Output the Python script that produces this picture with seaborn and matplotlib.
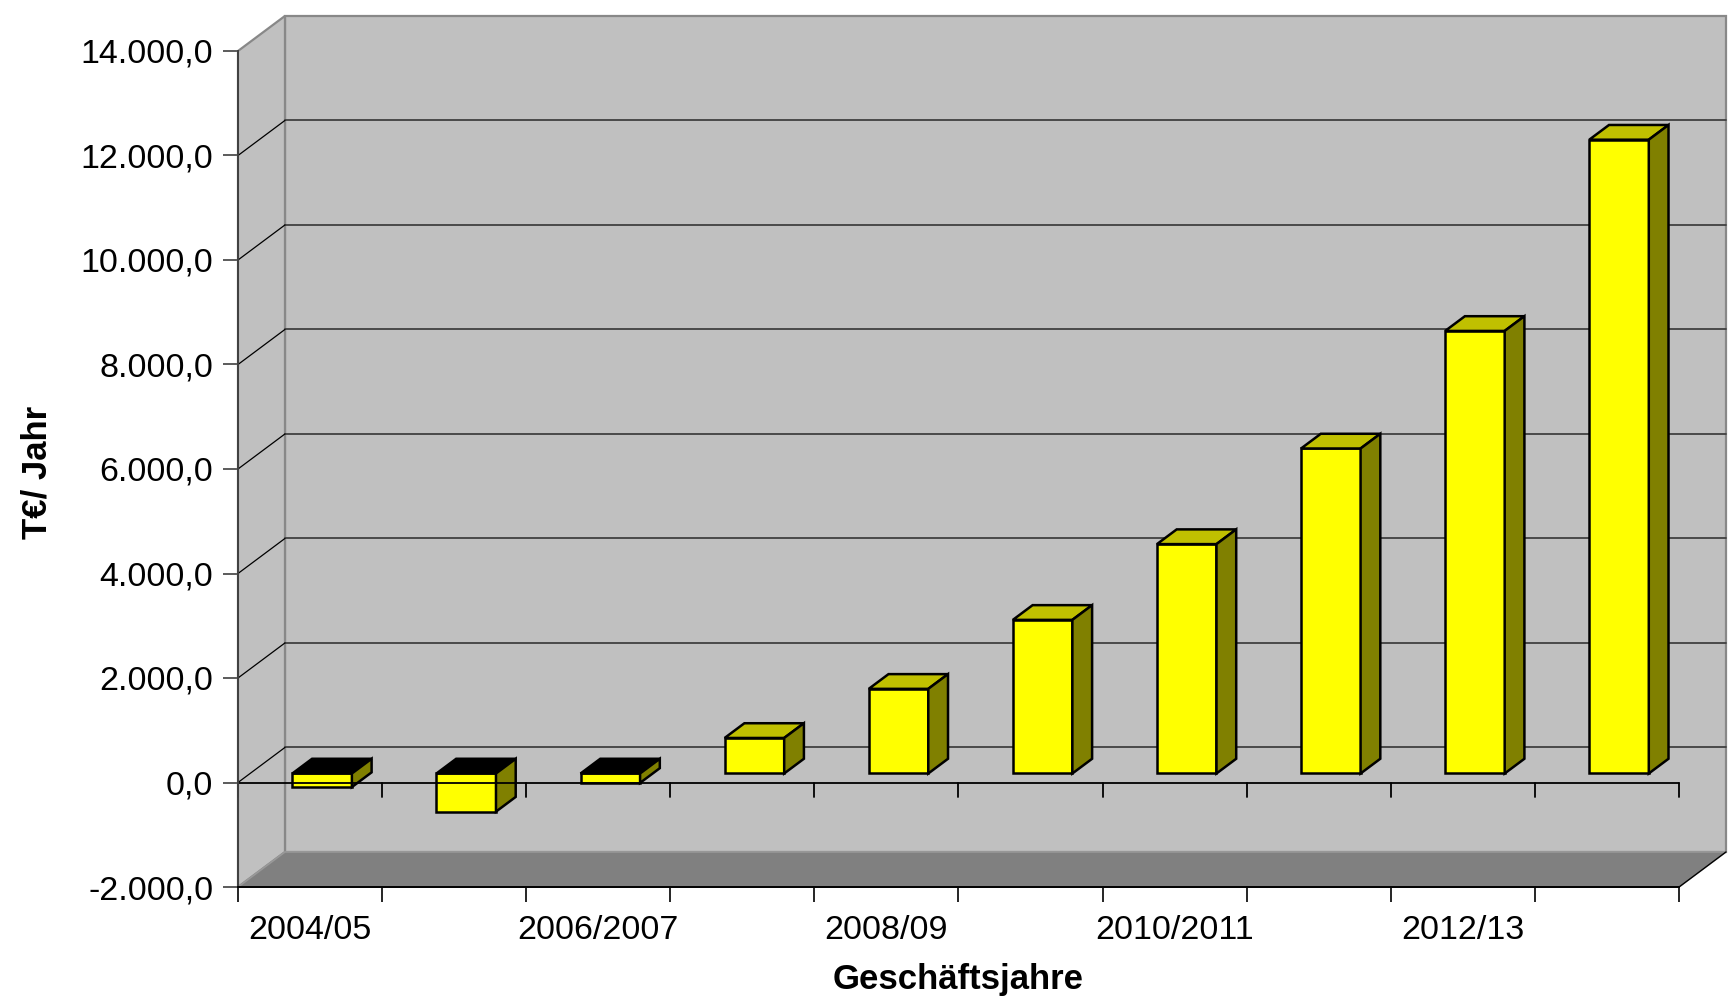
import numpy as np
import pandas as pd
import matplotlib
matplotlib.use("Agg")
import matplotlib.pyplot as plt
from matplotlib.patches import Polygon
from matplotlib.transforms import Affine2D
import seaborn as sns

# ---- data ---------------------------------------------------------------
years = ["2004/05", "2005/06", "2006/2007", "2007/08", "2008/09",
         "2009/10", "2010/2011", "2011/12", "2012/13", "2013/14"]
values = [-260, -730, -180, 680, 1620, 2940, 4390, 6220, 8470, 12130]
shown_labels = ["2004/05", "2006/2007", "2008/09", "2010/2011", "2012/13"]
y_ticks = list(range(-2000, 14001, 2000))

# ---- styling ------------------------------------------------------------
sns.set_style("white")
plt.rcParams["font.family"] = ["Liberation Sans", "DejaVu Sans"]
plt.rcParams["text.color"] = "black"
plt.rcParams["xtick.color"] = "black"
plt.rcParams["ytick.color"] = "black"

FRONT = "#FFFF00"
TOP = "#C0C000"
SIDE = "#808000"
WALL = "#C0C0C0"
FLOOR = "#808080"

W, H = 1731, 1002
fig = plt.figure(figsize=(W / 100, H / 100), dpi=100)
fig.patch.set_facecolor("white")
ax = fig.add_axes([238 / W, 1 - 887 / H, (1729 - 238) / W, (887 - 10) / H])
ax.patch.set_visible(False)

# oblique depth vector of the 3-D box (data units: categories, value)
DX, DY = 0.326, 671.0
D_FRONT, D_BAR = 0.257, 0.42          # bar placement inside the depth
YMIN, YMAX = -2000, 14000
XMIN, XMAX = -0.5, len(years) - 0.5
EDGE_LW = 1.8

df = pd.DataFrame({"jahr": years, "wert": values})

# ---- walls and floor ----------------------------------------------------
back = Polygon([(XMIN + DX, YMIN + DY), (XMAX + DX, YMIN + DY),
                (XMAX + DX, YMAX + DY), (XMIN + DX, YMAX + DY)],
               closed=True, facecolor=WALL, edgecolor="#888888", lw=1.6,
               zorder=0.5, clip_on=False)
side = Polygon([(XMIN, YMIN), (XMIN + DX, YMIN + DY),
                (XMIN + DX, YMAX + DY), (XMIN, YMAX)],
               closed=True, facecolor=WALL, edgecolor="#888888", lw=1.6,
               zorder=0.6, clip_on=False)
floor = Polygon([(XMIN, YMIN), (XMAX, YMIN),
                 (XMAX + DX, YMIN + DY), (XMIN + DX, YMIN + DY)],
                closed=True, facecolor=FLOOR, edgecolor="#999999", lw=1.2,
                zorder=0.7, clip_on=False)
for p in (back, side, floor):
    ax.add_patch(p)
ax.plot([XMAX, XMAX + DX], [YMIN, YMIN + DY], color="black", lw=1.0,
        zorder=0.8, clip_on=False)

# gridlines on the back wall and on the side wall
for v in y_ticks[1:-1]:
    ax.plot([XMIN + DX, XMAX + DX], [v + DY, v + DY], color="#404040",
            lw=1.3, zorder=0.9, clip_on=False)
    ax.plot([XMIN, XMIN + DX], [v, v + DY], color="black", lw=0.9,
            zorder=0.9, clip_on=False)

# ---- bars ---------------------------------------------------------------
sns.barplot(data=df, x="jahr", y="wert", order=years, color=FRONT,
            saturation=1, width=0.413, edgecolor="black", linewidth=EDGE_LW,
            ax=ax, zorder=3)

shift = Affine2D().translate(D_FRONT * DX, D_FRONT * DY) + ax.transData
bdx, bdy = D_BAR * DX, D_BAR * DY
for patch in list(ax.patches):
    if patch in (back, side, floor):
        continue
    patch.set_transform(shift)
    patch.set_clip_on(False)
    patch.set_joinstyle("miter")
    x0, w = patch.get_x(), patch.get_width()
    y0, h = patch.get_y(), patch.get_height()
    top, bottom = max(y0, y0 + h), min(y0, y0 + h)
    x1 = x0 + w
    top_face = Polygon([(x0, top), (x1, top), (x1 + bdx, top + bdy),
                        (x0 + bdx, top + bdy)], closed=True,
                       facecolor=TOP if h >= 0 else "black",
                       edgecolor="black", lw=EDGE_LW, joinstyle="miter",
                       transform=shift, zorder=3.1, clip_on=False)
    side_face = Polygon([(x1, bottom), (x1, top), (x1 + bdx, top + bdy),
                         (x1 + bdx, bottom + bdy)], closed=True,
                        facecolor=SIDE, edgecolor="black", lw=EDGE_LW,
                        joinstyle="miter", transform=shift, zorder=3.1,
                        clip_on=False)
    ax.add_patch(top_face)
    ax.add_patch(side_face)

# front category line at zero with its ticks
tick_len = 287
ax.plot([XMIN, XMAX], [0, 0], color="black", lw=1.3, zorder=3.5,
        clip_on=False)
for b in np.arange(XMIN, XMAX + 0.01, 1.0):
    ax.plot([b, b], [0, -tick_len], color="black", lw=1.3, zorder=3.5,
            clip_on=False)

# ---- axes ---------------------------------------------------------------
ax.set_xlim(XMIN, XMIN + (1729 - 238) / 144.1)
ax.set_ylim(YMIN, YMIN + (887 - 10) / (104.5 / 2000))

for s in ("top", "right"):
    ax.spines[s].set_visible(False)
ax.spines["left"].set_bounds(YMIN, YMAX)
ax.spines["left"].set_color("#404040")
ax.spines["left"].set_linewidth(1.4)
ax.spines["bottom"].set_bounds(XMIN, XMAX)
ax.spines["bottom"].set_color("black")
ax.spines["bottom"].set_linewidth(1.4)
ax.spines["left"].set_zorder(4)
ax.spines["bottom"].set_zorder(4)


def de_fmt(v):
    s = f"{v:,.1f}"
    return s.replace(",", "X").replace(".", ",").replace("X", ".")


ax.set_yticks(y_ticks, labels=[de_fmt(v) for v in y_ticks])
ax.tick_params(axis="y", which="major", direction="out", length=10.8,
               width=1.2, color="#404040", pad=7, labelsize=24.5,
               labelcolor="black", left=True)

ax.set_xticks(np.arange(XMIN, XMAX + 0.01, 1.0), labels=[""] * 11)
ax.set_xticks([years.index(l) for l in shown_labels], labels=shown_labels,
              minor=True)
ax.tick_params(axis="x", which="major", direction="out", length=10.8,
               width=1.2, color="black", bottom=True)
ax.tick_params(axis="x", which="minor", length=0, pad=20, labelsize=24.5,
               labelcolor="black", bottom=True)
ax.set_xlabel("")
ax.set_ylabel("")
ax.grid(False)

fig.text(37 / W, 1 - 472 / H, "T€/ Jahr", rotation=90, ha="center",
         va="center", fontsize=25, fontweight="bold", color="black")
fig.text(958 / W, 1 - 980 / H, "Geschäftsjahre", ha="center", va="center",
         fontsize=25, fontweight="bold", color="black")

fig.savefig("out.png", dpi=100, facecolor="white")
